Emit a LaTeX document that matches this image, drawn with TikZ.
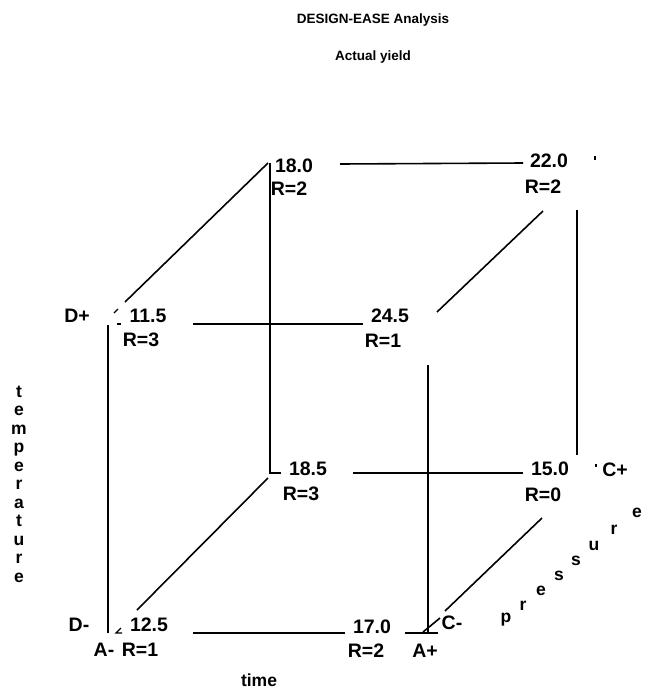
\documentclass[tikz,border=0pt]{standalone}
\usepackage{fontspec}
\setmainfont{Liberation Sans}
\begin{document}
\begin{tikzpicture}[x=1pt,y=-1pt,
  lbl/.style={font=\bfseries\fontsize{19.5}{22}\selectfont, inner sep=0pt},
  ttl/.style={font=\bfseries\fontsize{13.5}{15}\selectfont, inner sep=0pt},
  axislbl/.style={font=\bfseries\fontsize{17.5}{18.5}\selectfont, inner sep=0pt},
  cubeline/.style={line width=1.6pt},
  heavyline/.style={line width=2.6pt},
  tickline/.style={line width=1.2pt}]
\useasboundingbox (0,0) rectangle (653,691);
% titles
\node[ttl] (title) at (373,20) {DESIGN-EASE Analysis};
\node[ttl] (sub) at (373,57) {Actual yield};
\node[axislbl] (time) at (259,680) {time};
\node[axislbl, align=center] (temp) at (19,484) {t\\e\\m\\p\\e\\r\\a\\t\\u\\r\\e};
\foreach \ch/\px/\py [count=\i] in {p/506/620, r/523/606, e/541/591, s/559/576, s/576/561, u/594/546, r/614/530, e/637/513}
  \node[axislbl] (pr\i) at (\px,\py) {\ch};
% corner labels
\node[lbl] (v180) at (294,166) {18.0};
\node[lbl] (r180) at (289,189) {R=2};
\node[lbl] (v220) at (549,161) {22.0};
\node[lbl] (r220) at (543,187) {R=2};
\node[lbl] (v115) at (148,316) {11.5};
\node[lbl] (r115) at (141,340) {R=3};
\node[lbl] (dplus) at (77,316) {D+};
\node[lbl] (v245) at (390,316) {24.5};
\node[lbl] (r245) at (383,341) {R=1};
\node[lbl] (v185) at (308,469) {18.5};
\node[lbl] (r185) at (301,494) {R=3};
\node[lbl] (v150) at (550,469) {15.0};
\node[lbl] (r150) at (543,495) {R=0};
\node[lbl] (cplus) at (615,470) {C+};
\node[lbl] (v125) at (149,625) {12.5};
\node[lbl] (r125) at (140,650) {R=1};
\node[lbl] (dminus) at (79,625) {D-};
\node[lbl] (aminus) at (104,650) {A-};
\node[lbl] (v170) at (372,627) {17.0};
\node[lbl] (r170) at (366,651) {R=2};
\node[lbl] (aplus) at (425,651) {A+};
\node[lbl] (cminus) at (452,623) {C-};
% edge end points
\coordinate (ft1) at (193,324); \coordinate (ft2) at (363,324);
\coordinate (fb1) at (193,633); \coordinate (fb2) at (345,633);
\coordinate (fl1) at (108,325); \coordinate (fl2) at (108,633);
\coordinate (fr1) at (428,365); \coordinate (fr2) at (428,633);
\coordinate (ap1) at (405,633); \coordinate (ap2) at (438,633);
\coordinate (bt1) at (340,164); \coordinate (bt2) at (523,163);
\coordinate (bb1) at (353,473); \coordinate (bb2) at (523,473);
\coordinate (bl1) at (270,163); \coordinate (bl2) at (270,215); \coordinate (bl3) at (270,473);
\coordinate (ft3) at (281,473);
\coordinate (br1) at (577,210); \coordinate (br2) at (577,455);
\coordinate (dtl1) at (125,302); \coordinate (dtl2) at (268,163);
\coordinate (dtr1) at (437,312); \coordinate (dtr2) at (543,211);
\coordinate (dbl1) at (137,610); \coordinate (dbl2) at (268,478);
\coordinate (dbr1) at (445,611); \coordinate (dbr2) at (542,518);
\coordinate (dbr3) at (423,632); \coordinate (dbr4) at (440,618);
% small marks
\coordinate (m1a) at (114,313); \coordinate (m1b) at (118,309);
\coordinate (m2a) at (117,324); \coordinate (m2b) at (121,324);
\coordinate (m3a) at (595,156); \coordinate (m3b) at (595,160);
\coordinate (m4a) at (596,464); \coordinate (m4b) at (596,467);
\coordinate (m5a) at (121,628); \coordinate (m5b) at (116,633); \coordinate (m5c) at (122,633);
% cube edges
\draw[cubeline] (ft1) -- (ft2);
\draw[cubeline] (fb1) -- (fb2);
\draw[cubeline] (fl1) -- (fl2);
\draw[cubeline] (fr1) -- (fr2);
\draw[cubeline] (ap1) -- (ap2);
\draw[cubeline] (bt1) -- (bt2);
\draw[cubeline] (bb1) -- (bb2);
\draw[line width=1.2pt] (bl1) -- (bl2);
\draw[heavyline] (bl2) -- (bl3) -- (ft3);
\draw[heavyline] (br1) -- (br2);
\draw[cubeline] (dtl1) -- (dtl2);
\draw[cubeline] (dtr1) -- (dtr2);
\draw[cubeline] (dbl1) -- (dbl2);
\draw[cubeline] (dbr1) -- (dbr2);
\draw[cubeline] (dbr3) -- (dbr4);
% tick marks
\draw[tickline] (m1a) -- (m1b);
\draw[tickline] (m2a) -- (m2b);
\draw[tickline] (m3a) -- (m3b);
\draw[tickline] (m4a) -- (m4b);
\draw[tickline] (m5a) -- (m5b) -- (m5c);
\end{tikzpicture}
\end{document}
